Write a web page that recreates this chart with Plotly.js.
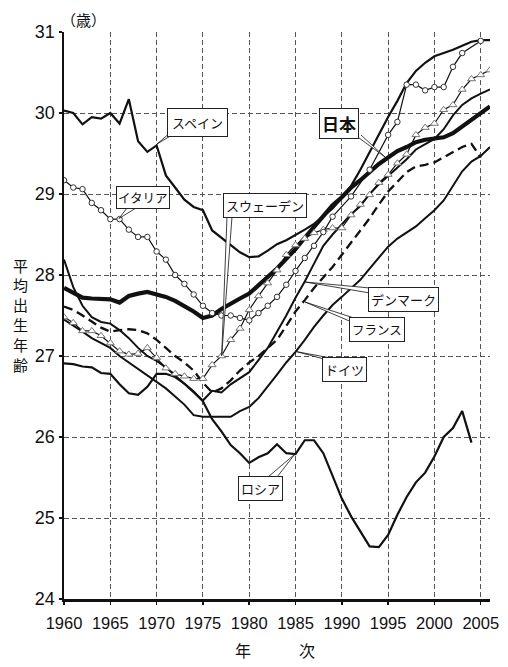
<!DOCTYPE html>
<html>
<head>
<meta charset="utf-8">
<script src="https://cdn.plot.ly/plotly-3.0.1.min.js"></script>
<style>
html,body{margin:0;padding:0;background:#fff;}
#chart{width:508px;height:667px;}
</style>
</head>
<body>
<div id="chart"></div>
<script>
// ---- data ----
const years = [1960,1961,1962,1963,1964,1965,1966,1967,1968,1969,
  1970,1971,1972,1973,1974,1975,1976,1977,1978,1979,
  1980,1981,1982,1983,1984,1985,1986,1987,1988,1989,
  1990,1991,1992,1993,1994,1995,1996,1997,1998,1999,
  2000,2001,2002,2003,2004,2005,2006];

const japan = [27.84,27.78,27.72,27.71,27.70,27.70,27.66,27.74,27.77,27.79,
  27.76,27.73,27.68,27.62,27.55,27.47,27.50,27.58,27.65,27.71,
  27.77,27.87,27.97,28.08,28.20,28.32,28.46,28.60,28.72,28.86,
  28.96,29.08,29.17,29.27,29.37,29.45,29.53,29.58,29.64,29.67,
  29.68,29.70,29.75,29.83,29.92,30.00,30.08];

const spain = [30.03,30.00,29.86,29.95,29.93,30.00,29.87,30.17,29.65,29.52,
  29.60,29.23,29.08,28.93,28.84,28.80,28.55,28.46,28.36,28.28,
  28.22,28.23,28.30,28.38,28.43,28.49,28.56,28.63,28.72,28.82,
  28.95,29.10,29.30,29.52,29.75,29.95,30.15,30.37,30.52,30.62,
  30.70,30.74,30.78,30.83,30.88,30.90,30.90];

const italyYears = [1960,1961,1962,1963,1964,1965,1966,1967,1968,1969,
  1970,1971,1972,1973,1974,1975,1976,1977,1978,1979,
  1980,1981,1982,1983,1984,1985,1986,1987,1988,1989,
  1991,1993,1995,1996,1997,1998,1999,2000,2001,2002,2003,2005];
const italy = [29.17,29.08,29.06,28.89,28.80,28.69,28.69,28.56,28.47,28.47,
  28.29,28.19,28.00,27.89,27.76,27.62,27.53,27.50,27.50,27.47,
  27.44,27.53,27.62,27.73,27.88,28.05,28.21,28.36,28.53,28.72,
  28.97,29.30,29.73,29.89,30.35,30.35,30.28,30.32,30.32,30.57,30.74,30.89];

const sweden = [27.48,27.41,27.31,27.31,27.25,27.16,27.06,27.02,27.03,27.10,
  26.98,26.85,26.78,26.75,26.72,26.72,26.89,27.00,27.20,27.34,
  27.57,27.74,27.90,28.06,28.25,28.37,28.45,28.52,28.56,28.58,
  28.58,28.74,28.87,28.99,29.14,29.24,29.38,29.49,29.73,29.82,
  29.87,30.04,30.10,30.29,30.42,30.47,30.53];

const denmark = [28.19,27.85,27.62,27.48,27.42,27.40,27.32,27.22,27.10,27.00,
  26.94,26.86,26.76,26.66,26.56,26.45,26.57,26.55,26.65,26.72,
  26.80,26.95,27.10,27.30,27.50,27.72,27.92,28.14,28.36,28.50,
  28.62,28.75,28.85,29.00,29.12,29.22,29.33,29.43,29.55,29.62,
  29.68,29.80,29.97,30.10,30.18,30.24,30.29];

const franceYears = years.slice(0, 46);
const france = [27.61,27.57,27.50,27.42,27.35,27.30,27.32,27.33,27.32,27.28,
  27.20,27.10,27.00,26.92,26.82,26.67,26.55,26.60,26.70,26.82,
  26.92,27.00,27.10,27.20,27.37,27.55,27.69,27.84,27.97,28.10,
  28.25,28.40,28.55,28.70,28.87,29.03,29.15,29.27,29.34,29.36,
  29.39,29.45,29.52,29.58,29.62,29.45];

const germany = [27.45,27.38,27.30,27.22,27.16,27.10,27.00,26.92,26.84,26.76,
  26.68,26.60,26.50,26.40,26.27,26.25,26.25,26.25,26.25,26.32,
  26.37,26.48,26.62,26.77,26.92,27.05,27.20,27.36,27.50,27.63,
  27.73,27.83,27.94,28.08,28.22,28.35,28.45,28.53,28.60,28.70,
  28.80,28.92,29.10,29.28,29.40,29.47,29.58];

const russiaYears = years.slice(0, 45);
const russia = [26.91,26.90,26.87,26.86,26.79,26.78,26.65,26.54,26.52,26.62,
  26.78,26.78,26.74,26.66,26.56,26.44,26.22,26.07,25.90,25.80,
  25.68,25.75,25.80,25.91,25.80,25.79,25.96,25.96,25.80,25.51,
  25.24,25.02,24.83,24.65,24.64,24.79,25.04,25.26,25.44,25.56,
  25.76,26.00,26.11,26.32,25.93];

const xTicks = [1960,1965,1970,1975,1980,1985,1990,1995,2000,2005];
const yTicks = [24,25,26,27,28,29,30,31];
const yTitleChars = ['平','均','出','生','年','齢'];

// ---- layout helpers (pixel -> data) ----
const L = 64, R = 18, T = 32, B = 68, W = 508, H = 667;
const X0 = 1960, X1 = 2006, Y0 = 24, Y1 = 31;
const pw = W - L - R, ph = H - T - B;
function dx(px){ return X0 + (px - L) / pw * (X1 - X0); }
function dy(py){ return Y1 - (py - T) / ph * (Y1 - Y0); }
function px2paperX(px){ return (px - L) / pw; }
function px2paperY(py){ return (H - B - py) / ph; }

const jp = '"Noto Sans CJK JP", "Noto Sans", sans-serif';
const lat = '"Liberation Sans", Arial, sans-serif';

function line(x, y, w, extra){
  return Object.assign({x:x, y:y, type:'scatter', mode:'lines',
    line:{color:'#111', width:w}, hoverinfo:'skip', showlegend:false}, extra||{});
}

const traces = [
  line(russiaYears, russia, 2.2),
  line(years, germany, 2),
  line(franceYears, france, 2.3, {line:{color:'#111', width:2.3, dash:'9px,5px'}}),
  line(years, denmark, 2),
  line(years, spain, 2.2),
  line(years, japan, 4.2),
  line(years, sweden, 1.2, {mode:'lines+markers',
    marker:{symbol:'triangle-up', size:7, color:'#fff', line:{color:'#777', width:1}}}),
  line(italyYears, italy, 1.2, {mode:'lines+markers',
    marker:{symbol:'circle', size:5.5, color:'#fff', line:{color:'#333', width:1}}})
];

// callout labels: [text, box center px, wedge p1, wedge p2, target, font size, bold, pad]
const callouts = [
  ['スペイン', [197,122], [171,132], [177,132], [157,144], 13, false, 4],
  ['イタリア', [142.5,197.5], [127,208], [136,208], [119,218.5], 12.5, false, 1],
  ['スウェーデン', [265,205], [227,216.5], [232,216.5], [221.7,355.7], 13, false, 2],
  ['日本', [339,123.5], [355,135], [361,135], [385,157], 17, true, 2],
  ['デンマーク', [403,299], [370,288], [370,293], [305,282], 13, false, 2],
  ['フランス', [376.5,329], [354,318], [354,323], [305,302], 12.5, false, 2],
  ['ドイツ', [344.5,369], [324,359], [331,358], [296.7,351.7], 13, false, 2],
  ['ロシア', [260,488.5], [268,477], [277,477], [295,454], 13, false, 2]
];

const shapes = callouts.map(c => ({
  type:'path', xref:'x', yref:'y', layer:'above',
  path:'M '+dx(c[2][0])+','+dy(c[2][1])+' L '+dx(c[4][0])+','+dy(c[4][1])+' L '+dx(c[3][0])+','+dy(c[3][1]),
  line:{color:'#111', width:0.8}, fillcolor:'rgba(255,255,255,1)'
}));

const annotations = callouts.map(c => ({
  x:dx(c[1][0]), y:dy(c[1][1]), xref:'x', yref:'y', xanchor:'center', yanchor:'middle',
  text: c[6] ? '<b>'+c[0]+'</b>' : c[0], showarrow:false,
  font:{family:jp, size:c[5], color:'#111'},
  bgcolor:'#fff', bordercolor:'#222', borderwidth:1, borderpad:c[7]
}));

annotations.push({
  xref:'paper', yref:'paper', x:px2paperX(83), y:px2paperY(19), xanchor:'center', yanchor:'middle',
  text:'（歳）', showarrow:false, font:{family:jp, size:15, color:'#111'}
});
// vertical y-axis title, one character per annotation
yTitleChars.forEach((ch, i) => {
  annotations.push({
    xref:'paper', yref:'paper', x:px2paperX(20), y:px2paperY(265 + i*19.8), xanchor:'center', yanchor:'middle',
    text:ch, showarrow:false, font:{family:jp, size:15, color:'#111'}, borderpad:0
  });
});
annotations.push({
  xref:'paper', yref:'paper', x:px2paperX(275), y:px2paperY(650), xanchor:'center', yanchor:'middle',
  text:'年　　　次', showarrow:false, font:{family:jp, size:16, color:'#111'}
});

const layout = {
  width:W, height:H,
  margin:{l:L, r:R, t:T, b:B, pad:0},
  paper_bgcolor:'#fff', plot_bgcolor:'#fff',
  showlegend:false,
  xaxis:{range:[X0, X1], tickvals:xTicks, ticktext:xTicks.map(String),
    showgrid:true, gridcolor:'#555', gridwidth:1, griddash:'5px,3px',
    showline:true, linecolor:'#111', linewidth:2.5, zeroline:false,
    ticks:'outside', ticklen:3, tickwidth:1.5, tickcolor:'#111',
    ticklabelstandoff:5,
    tickfont:{family:lat, size:16.5, color:'#111'}, fixedrange:true},
  yaxis:{range:[Y0, Y1], tickvals:yTicks, ticktext:yTicks.map(String),
    showgrid:true, gridcolor:'#555', gridwidth:1, griddash:'5px,3px',
    showline:true, linecolor:'#111', linewidth:2.5, zeroline:false,
    ticks:'outside', ticklen:3, tickwidth:1.5, tickcolor:'#111',
    tickfont:{family:lat, size:18, color:'#111'}, fixedrange:true},
  shapes:shapes,
  annotations:annotations
};

Plotly.newPlot('chart', traces, layout, {displayModeBar:false, staticPlot:true});
</script>
</body>
</html>
